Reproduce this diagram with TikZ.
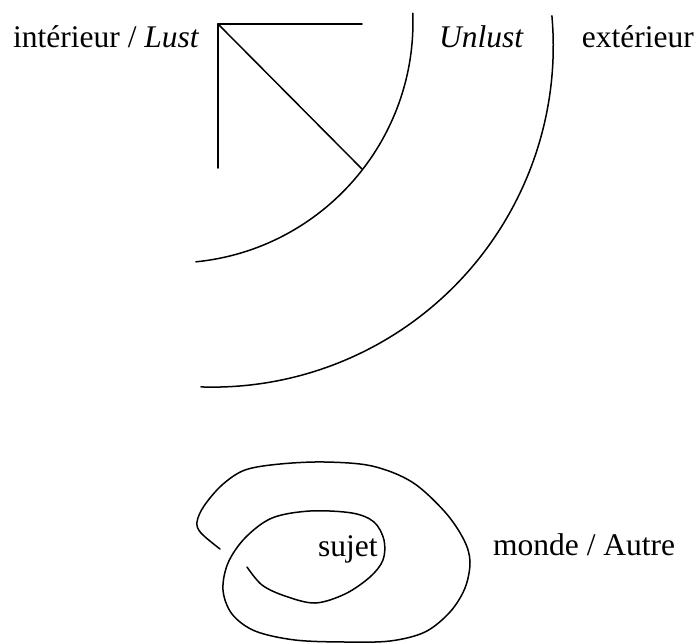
\documentclass[tikz,border=0pt]{standalone}
\usepackage{fontspec}
\setmainfont{Liberation Serif}
\begin{document}
\begin{tikzpicture}[x=1pt,y=-1pt,
  curve/.style={line width=1.5pt, line cap=round, line join=round},
  lbl/.style={inner sep=0pt, anchor=base west, font=\fontsize{31.5}{38}\selectfont}]
\useasboundingbox (0,0) rectangle (696,643);
% labels
\node[lbl] (lint) at (13,47) {intérieur / \textit{Lust}};
\node[lbl] (lun) at (439,47) {\textit{Unlust}};
\node[lbl, anchor=base east] (lext) at (694,47) {extérieur};
\node[lbl] (lsuj) at (318,556) {sujet};
\node[lbl] (lmon) at (493,555) {monde / Autre};
% corner
\coordinate (c) at (218,24);
\coordinate (h) at (362,24);
\coordinate (v) at (218,168);
\coordinate (d) at (362,169);
\draw[curve] (h) -- (c) -- (v);
\draw[curve] (c) -- (d);
% arcs
\draw[curve] (412.8,13.2) arc[start angle=-2.1, end angle=84.3, radius=241];
\draw[curve] (551.9,15.8) arc[start angle=-5.1, end angle=91.9, radius=341];
% spiral
\draw[curve] plot[smooth, tension=0.55] coordinates {
 (220,549) (201,533) (197,522) (204,506) (222,485) (245,470) (280,464)
 (325,462) (372,466) (412,482) (445,512) (464,540) (470,562) (465,588)
 (450,612) (425,632) (390,641) (345,642) (295,640) (255,631) (232,614)
 (223,590) (228,563) (245,538) (272,518) (310,511) (352,513) (374,522)
 (384,540) (383,560) (370,577) (345,594) (315,603) (285,596) (262,585)
 (247,567)};
\end{tikzpicture}
\end{document}
